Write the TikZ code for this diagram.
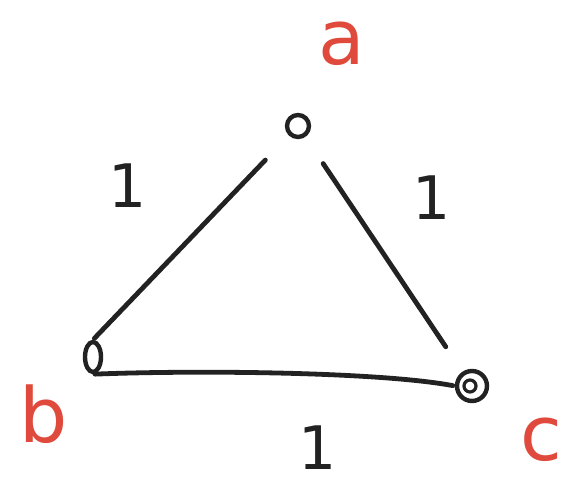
\documentclass[tikz,border=0pt]{standalone}
\usepackage{fontspec}
\setmainfont{DejaVu Sans}
\usetikzlibrary{shapes.geometric}
\definecolor{hred}{HTML}{E04A3C}
\definecolor{ink}{HTML}{222222}
\begin{document}
\begin{tikzpicture}[x=0.5pt,y=-0.5pt,
  vtx/.style={draw=ink,line width=2.2pt,circle,inner sep=0pt},
  edge/.style={draw=ink,line width=2.4pt,line cap=round},
  lab/.style={text=hred,font=\fontsize{38}{38}\selectfont},
  wt/.style={text=ink,font=\fontsize{30}{30}\selectfont}]
\useasboundingbox (0,0) rectangle (570,492);
\fill[white] (0,0) rectangle (570,492);
\node[vtx,minimum size=11pt] (a) at (298,126) {};
\node[vtx,ellipse,minimum width=8pt,minimum height=15pt] (b) at (93,357) {};
\node[vtx,minimum size=15pt] (c) at (472,386) {};
\node[vtx,minimum size=6pt,line width=1.6pt] (c2) at (470,386) {};
\draw[edge,shorten <=17pt,shorten >=1pt] (a) -- (b.north);
\draw[edge,shorten <=16pt,shorten >=15pt] (a) -- (c);
\draw[edge,shorten <=1pt,shorten >=1pt] (b.south) .. controls (200,370) and (380,372) .. (c.west);
\node[lab] (la) at (342,44) {a};
\node[lab] (lb) at (44,414) {b};
\node[lab] (lc) at (541,440) {c};
\node[wt] (w1) at (128,186) {1};
\node[wt] (w2) at (432,198) {1};
\node[wt] (w3) at (318,448) {1};
\end{tikzpicture}
\end{document}
